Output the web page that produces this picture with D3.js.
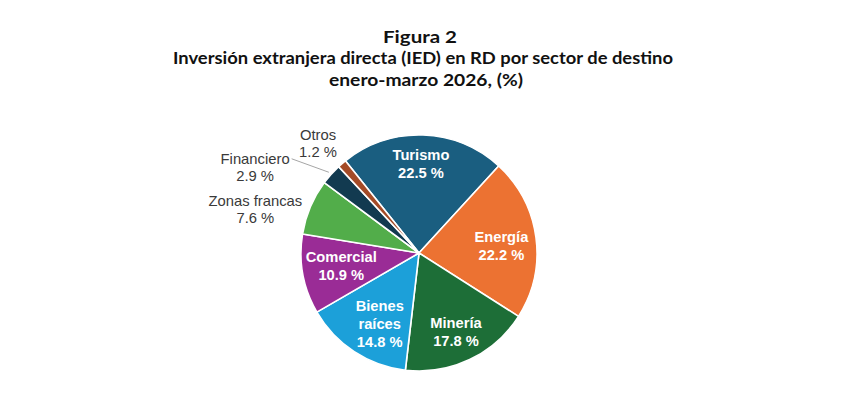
<!DOCTYPE html>
<html><head><meta charset="utf-8">
<script src="https://cdn.jsdelivr.net/npm/d3@7"></script>
<style>body{margin:0;background:#fff}svg{display:block}</style></head>
<body><svg id="c" width="848" height="410"></svg>
<script>
const sectors = ["Turismo","Energía","Minería","Bienes raíces","Comercial","Zonas francas","Financiero","Otros"];
const values = [22.5,22.2,17.8,14.8,10.9,7.6,2.9,1.2];
const colors = ["#1a5e80","#ec7232","#1d6e37","#1ca0d9","#9a2c96","#52ad4a","#123a50","#a44b27"];
const labelLines = [["Turismo"],["Energía"],["Minería"],["Bienes","raíces"],["Comercial"],["Zonas francas"],["Financiero"],["Otros"]];
const titleLines = ["Figura 2","Inversión extranjera directa (IED) en RD por sector de destino","enero-marzo 2026, (%)"];

const svg = d3.select("#c");
const cx = 419, cy = 253, r = 118;
const deg = Math.PI/180;
const start = -38.6*deg;

// title
const title = svg.append("g").attr("font-family","Lato, 'Open Sans', sans-serif").attr("font-weight",700).attr("fill","#111").attr("text-anchor","middle");
const tY = [42.5, 64, 85.5];
const tX = [420, 423, 426];
const tLen = [74, 500, 194];
titleLines.forEach((t,i)=>{
  title.append("text").attr("x",tX[i]).attr("y",tY[i]).attr("font-size",17.5)
    .attr("textLength",tLen[i]).attr("lengthAdjust","spacingAndGlyphs").text(t);
});

const data = sectors.map((s,i)=>({name:s, value:values[i], color:colors[i], lines:labelLines[i], i}));
const pie = d3.pie().sort(null).value(d=>d.value).startAngle(start).endAngle(start+2*Math.PI);
const arcs = pie(data);
const arc = d3.arc().innerRadius(0).outerRadius(r);
const g = svg.append("g").attr("transform",`translate(${cx},${cy})`);
g.selectAll("path").data(arcs).join("path")
  .attr("d",arc).attr("fill",d=>d.data.color)
  .attr("stroke","#fff").attr("stroke-width",1.6).attr("stroke-linejoin","round");

const fmt = v => v.toFixed(1) + " %";
const lineH = 18;
const inner = d3.arc().innerRadius(r*0.73).outerRadius(r*0.73);
const innerOffsets = {"Turismo":[-1,-3], "Energía":[-3,4], "Minería":[0,1], "Bienes raíces":[8,-1], "Comercial":[7,-3]};
arcs.filter(d=>d.data.i<5).forEach(d=>{
  const [x0,y] = inner.centroid(d);
  const off = innerOffsets[d.data.name];
  const x = x0+off[0];
  const lines = d.data.lines.concat([fmt(d.data.value)]);
  const t = g.append("text").attr("text-anchor","middle").attr("fill","#fff")
    .attr("font-family","Arial, 'Liberation Sans', sans-serif").attr("font-weight",700).attr("font-size",14.7);
  const y0 = y + off[1] - (lines.length-1)*lineH/2 + 5;
  lines.forEach((l,k)=>t.append("tspan").attr("x",x).attr("y",y0+k*lineH).text(l));
});

// outside labels (offset from slice edge midpoint)
const outerOffsets = {"Zonas francas":[-55,2], "Financiero":[-76,-7], "Otros":[-24,-20]};
const edge = d3.arc().innerRadius(r).outerRadius(r);
arcs.filter(d=>d.data.i>=5).forEach(d=>{
  const [ex,ey] = edge.centroid(d);
  const off = outerOffsets[d.data.name];
  const x = ex+off[0], y = ey+off[1];
  const lines = d.data.lines.concat([fmt(d.data.value)]);
  const t = g.append("text").attr("text-anchor","middle").attr("fill","#3a3a3a")
    .attr("font-family","Arial, 'Liberation Sans', sans-serif").attr("font-size",14.8);
  const y0 = y - (lines.length-1)*17/2 + 5;
  lines.forEach((l,k)=>t.append("tspan").attr("x",x).attr("y",y0+k*17).text(l));
  if (d.data.name==="Financiero") {
    const w = t.node().getBBox();
    const a = (d.startAngle+d.endAngle)/2;
    g.append("line").attr("x1",w.x+w.width+2).attr("y1",y0-5)
      .attr("x2",Math.sin(a)*(r+3)).attr("y2",-Math.cos(a)*(r+3))
      .attr("stroke","#a6a6a6").attr("stroke-width",1);
  }
});
</script></body></html>
